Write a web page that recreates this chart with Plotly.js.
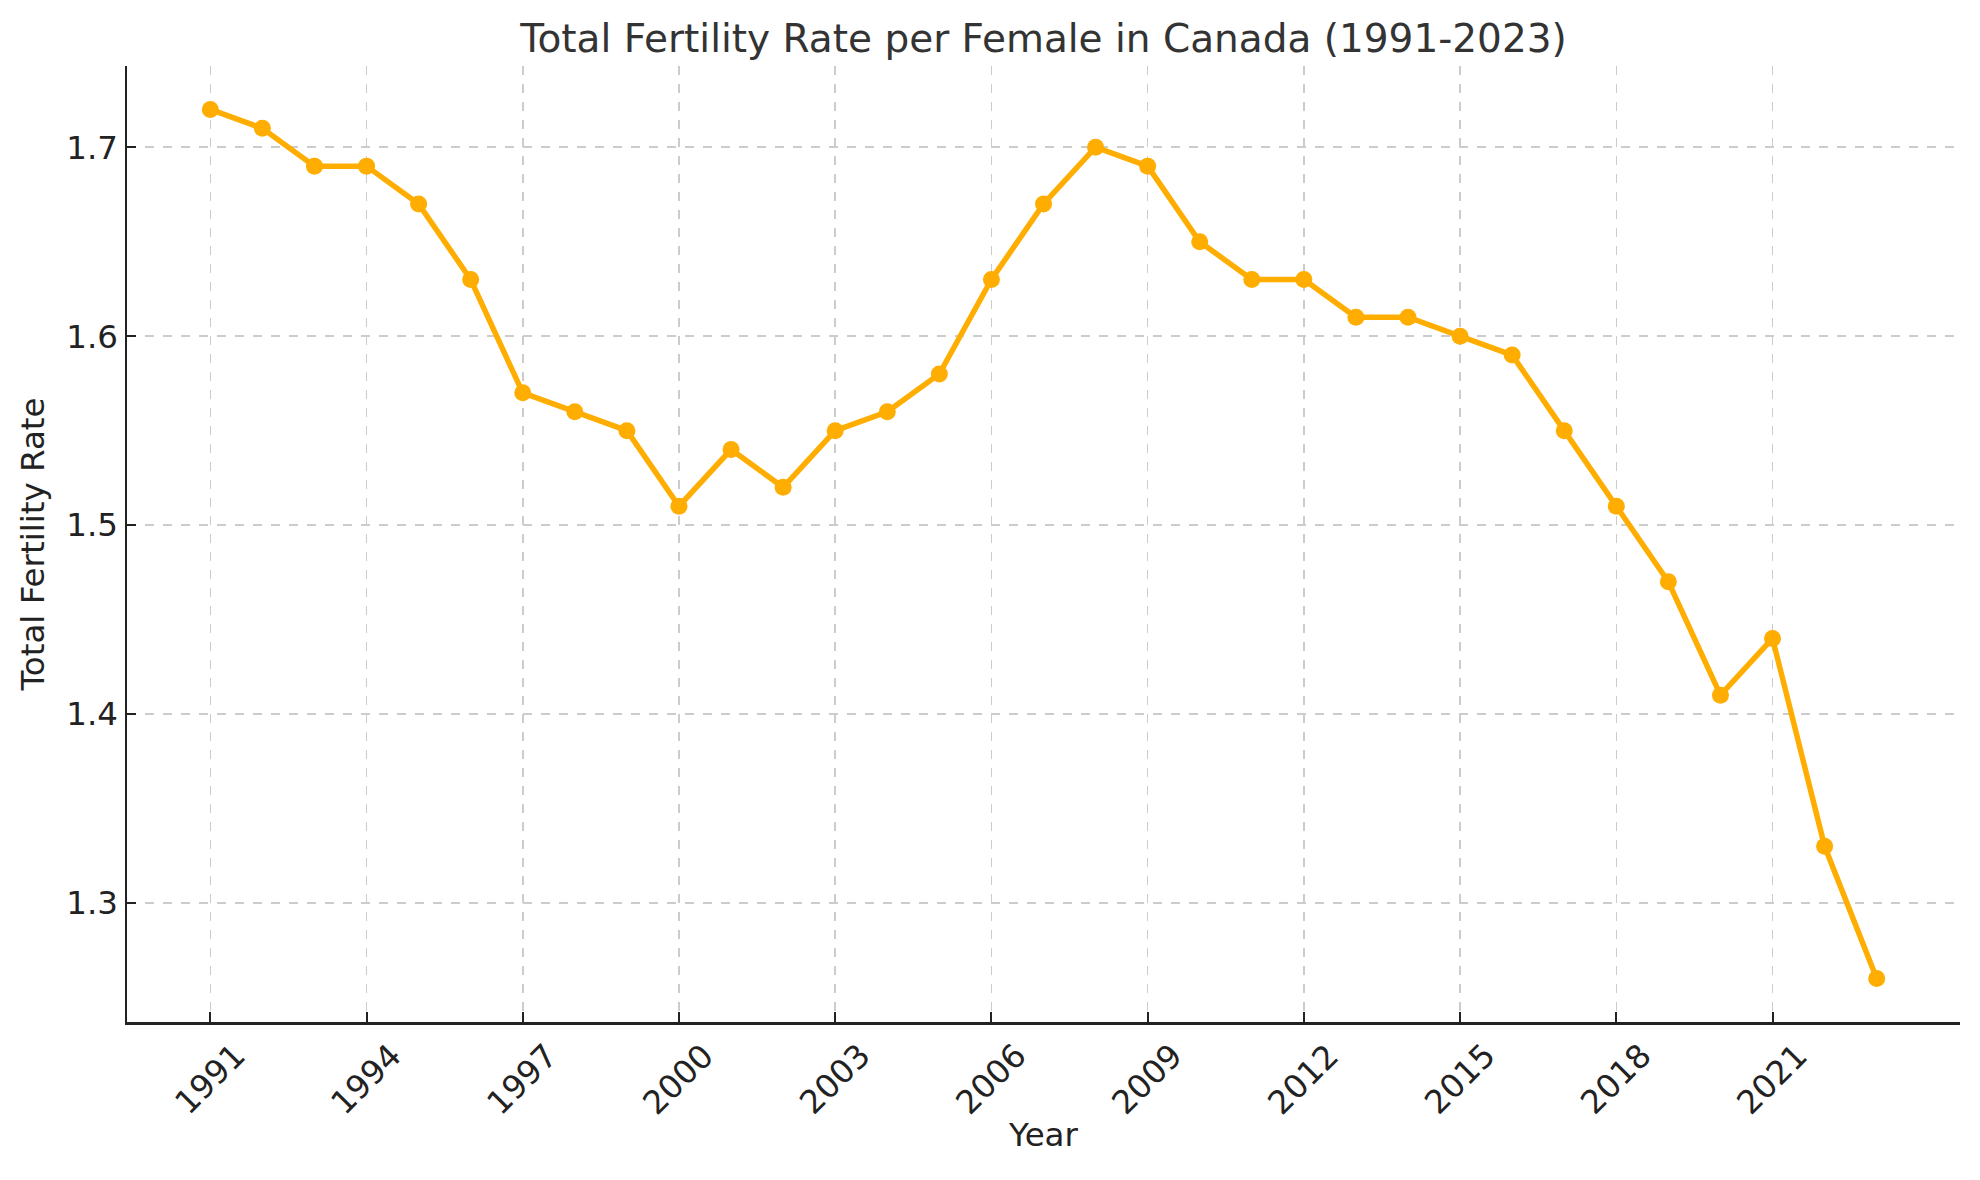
<!DOCTYPE html>
<html>
<head>
<meta charset="utf-8">
<script src="https://cdn.plot.ly/plotly-3.0.1.min.js"></script>
<style>html,body{margin:0;padding:0;background:#fff;}#chart{width:1980px;height:1180px;}</style>
</head>
<body>
<div id="chart"></div>
<script>
const years = [1991,1992,1993,1994,1995,1996,1997,1998,1999,2000,2001,2002,2003,2004,2005,2006,2007,2008,2009,2010,2011,2012,2013,2014,2015,2016,2017,2018,2019,2020,2021,2022,2023];
const fertility = [1.72,1.71,1.69,1.69,1.67,1.63,1.57,1.56,1.55,1.51,1.54,1.52,1.55,1.56,1.58,1.63,1.67,1.70,1.69,1.65,1.63,1.63,1.61,1.61,1.60,1.59,1.55,1.51,1.47,1.41,1.44,1.33,1.26];
const xTicks = [1991,1994,1997,2000,2003,2006,2009,2012,2015,2018,2021];
const xTickLabels = ["1991","1994","1997","2000","2003","2006","2009","2012","2015","2018","2021"];
const yTicks = [1.3,1.4,1.5,1.6,1.7];
const yTickLabels = ["1.3","1.4","1.5","1.6","1.7"];
const titleText = "Total Fertility Rate per Female in Canada (1991-2023)";
const xLabel = "Year";
const yLabel = "Total Fertility Rate";

const FONT = "DejaVu Sans, sans-serif";
const lineColor = "#FFAD00";
const TICK_SIZE = 32.5;

const trace = {
  x: years, y: fertility, type: "scatter", mode: "lines+markers",
  line: {color: lineColor, width: 5.5},
  marker: {color: lineColor, size: 17},
  hoverinfo: "x+y"
};

const annotations = xTicks.map((t, i) => ({
  x: t, xref: "x", y: -0.06, yref: "paper",
  text: xTickLabels[i], showarrow: false, textangle: -45,
  xanchor: "center", yanchor: "middle",
  font: {family: FONT, size: TICK_SIZE, color: "#222"}
}));

const yMin = Math.min(...fertility), yMax = Math.max(...fertility);
const yPad = (yMax - yMin) * 0.05;
const xMin = years[0], xMax = years[years.length - 1];
const xPad = (xMax - xMin) * 0.05;

const layout = {
  width: 1980, height: 1180,
  paper_bgcolor: "#fff", plot_bgcolor: "#fff",
  margin: {l: 127, r: 20, t: 66, b: 158},
  showlegend: false,
  title: {text: titleText, xref: "paper", x: 0.5, xanchor: "center", yref: "container", y: 1 - 38/1180, yanchor: "middle",
          font: {family: FONT, size: 39, color: "#333"}},
  xaxis: {
    range: [xMin - xPad, xMax + xPad],
    tickmode: "array", tickvals: xTicks, ticktext: xTickLabels,
    showticklabels: false,
    ticks: "inside", ticklen: 10, tickwidth: 2, tickcolor: "#222",
    showline: true, linecolor: "#222", linewidth: 2.5, mirror: false,
    showgrid: true, gridcolor: "#cccccc", gridwidth: 1.5, griddash: "dash",
    zeroline: false,
    title: {text: xLabel, font: {family: FONT, size: TICK_SIZE, color: "#222"}, standoff: 100}
  },
  yaxis: {
    range: [yMin - yPad, yMax + yPad],
    tickmode: "array", tickvals: yTicks, ticktext: yTickLabels,
    ticks: "inside", ticklen: 9, tickwidth: 2, tickcolor: "#222",
    tickfont: {family: FONT, size: TICK_SIZE, color: "#222"},
    showline: true, linecolor: "#222", linewidth: 2.5, mirror: false,
    showgrid: true, gridcolor: "#cccccc", gridwidth: 1.5, griddash: "dash",
    zeroline: false,
    title: {text: yLabel, font: {family: FONT, size: TICK_SIZE, color: "#222"}, standoff: 12}
  },
  annotations: annotations
};

Plotly.newPlot("chart", [trace], layout, {displayModeBar: false, staticPlot: true});
</script>
</body>
</html>
